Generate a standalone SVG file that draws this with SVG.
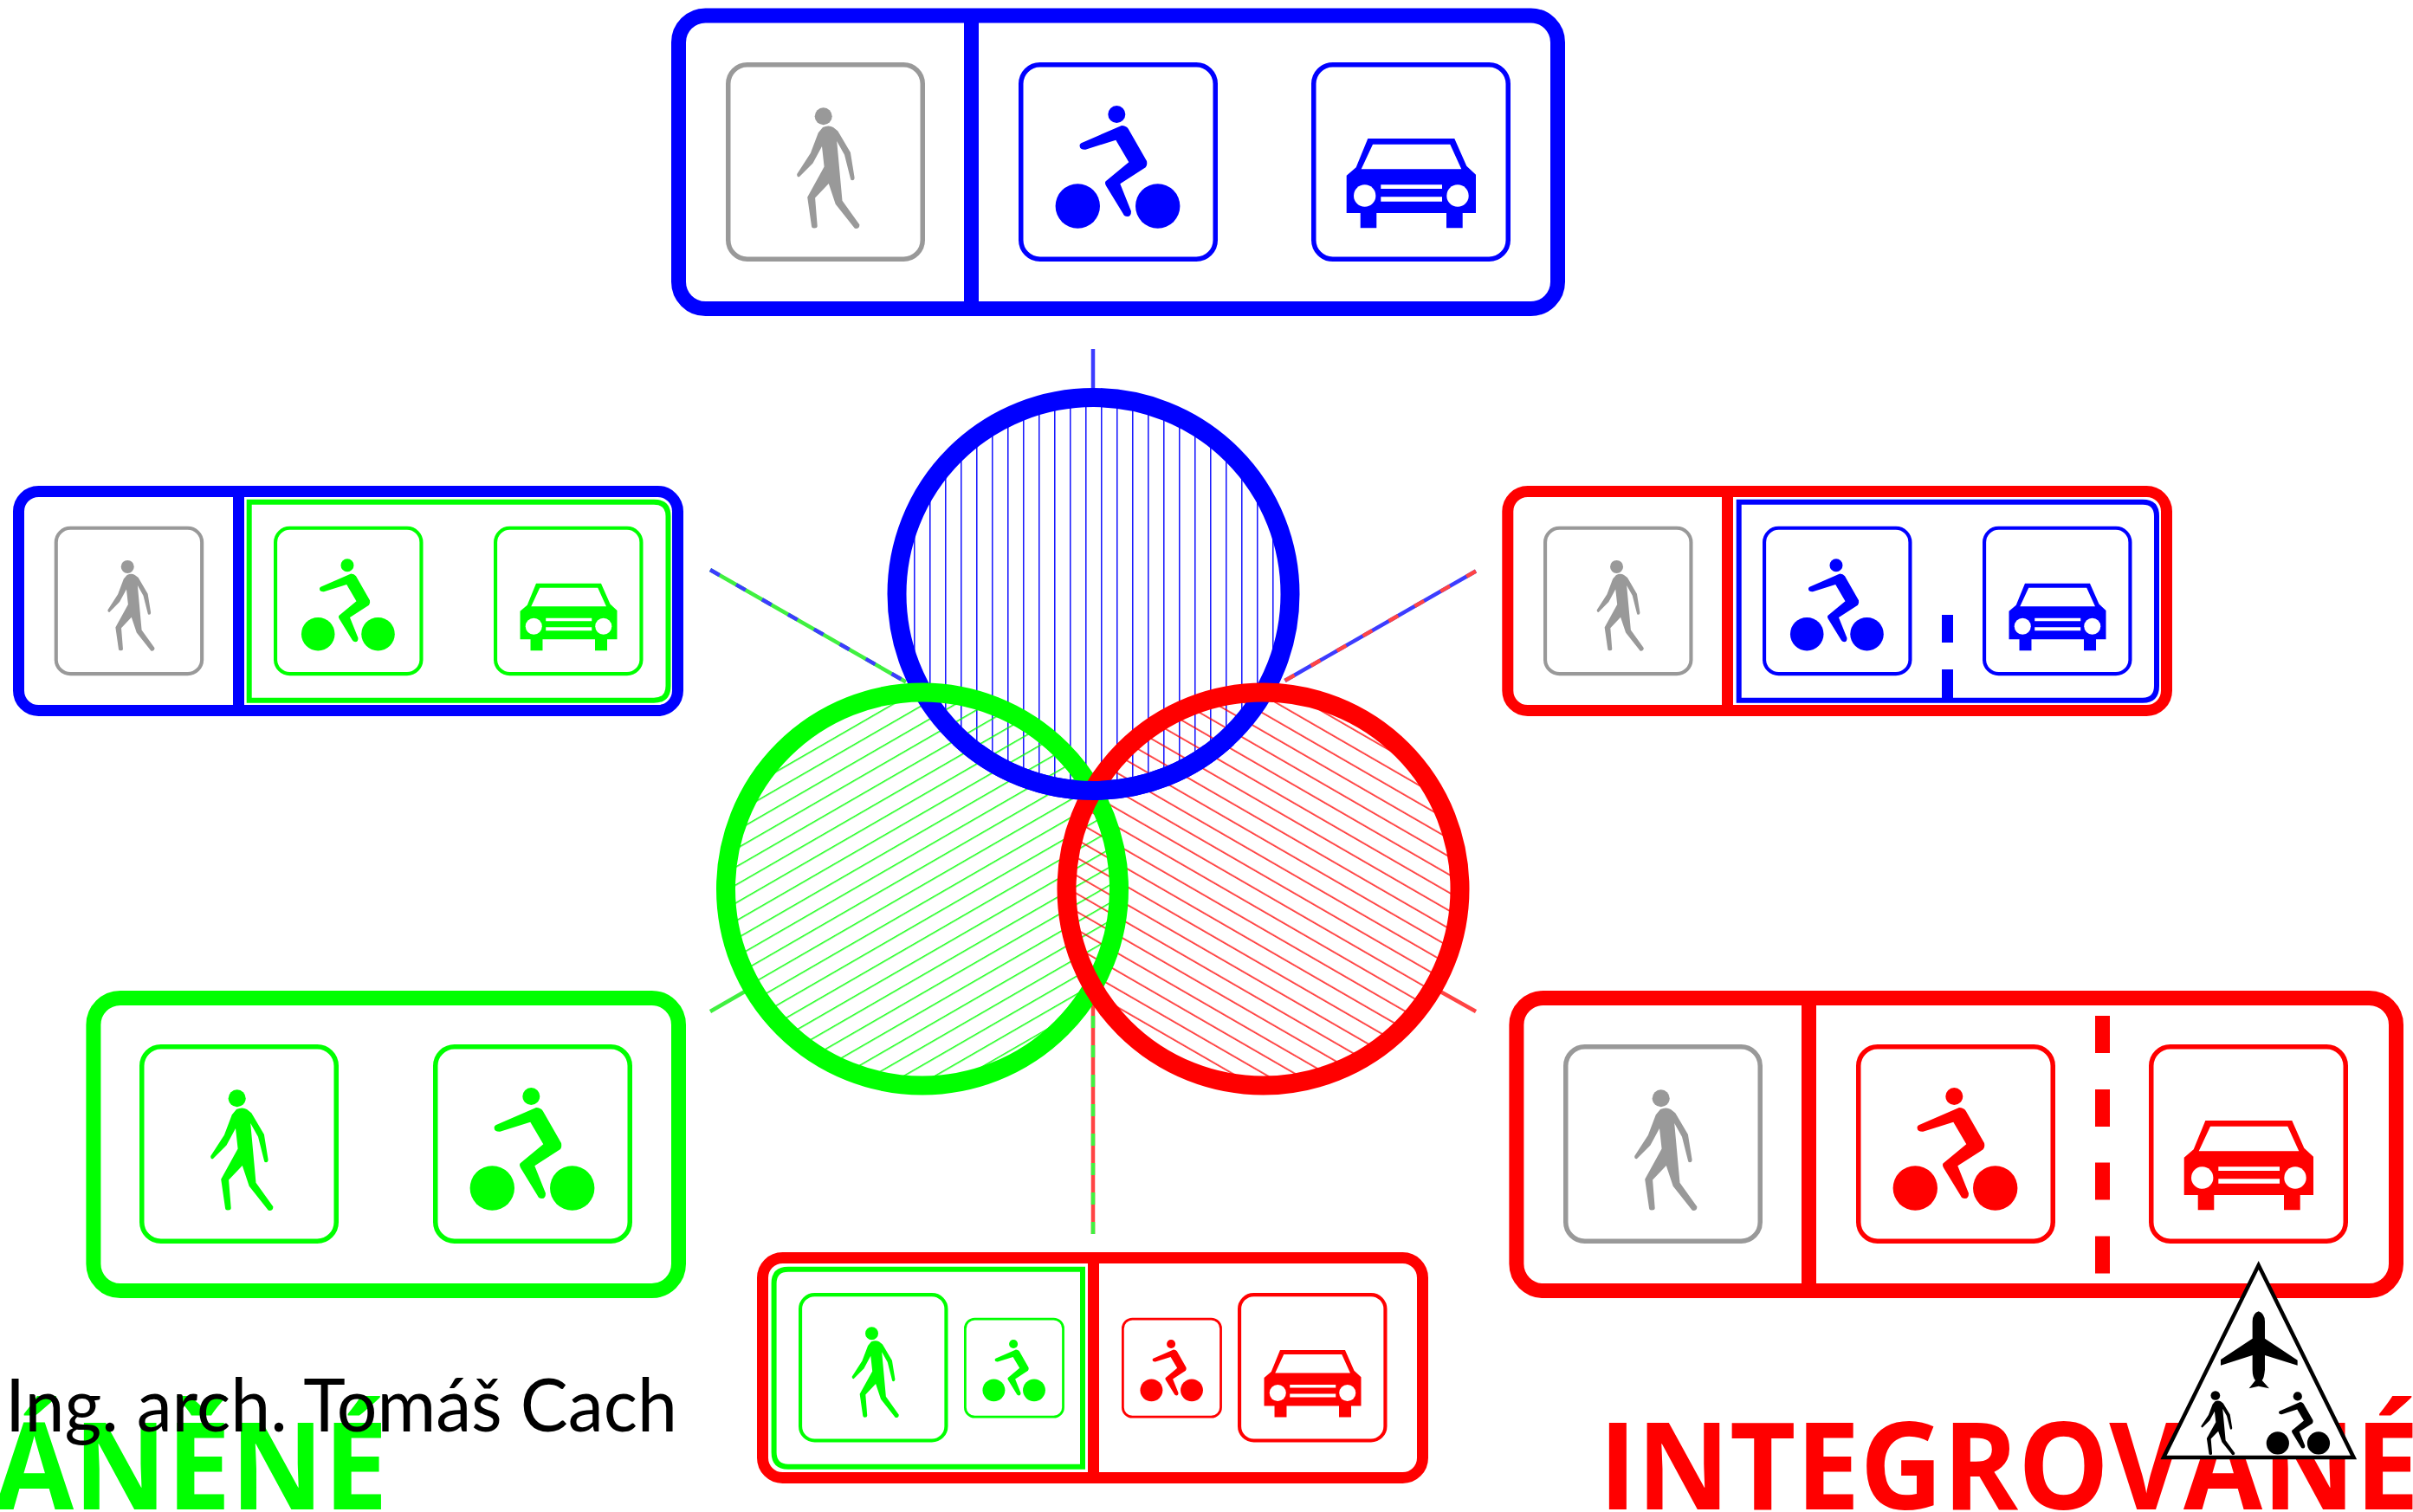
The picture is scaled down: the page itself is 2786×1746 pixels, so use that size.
<svg xmlns="http://www.w3.org/2000/svg" width="2786" height="1746" viewBox="0 0 2786 1746">
<style>
.b{color:#00f}.g{color:#0f0}.r{color:#f00}.k{color:#000}.a{color:#999}
.frame{fill:#fff;stroke:currentColor}
.ln{fill:currentColor}
.inner{fill:none;stroke:currentColor;stroke-width:6}
.spoke{fill:none;stroke-width:4.5}
.ring{fill:none;stroke-width:22}
.title{font-family:"Open Sans","Noto Sans",sans-serif;font-weight:700;font-size:140px}
</style>
<defs>
<g id="box"><rect x="2.75" y="2.75" width="224.5" height="224.5" rx="22" fill="none" stroke="currentColor" stroke-width="5.5"/></g>
<g id="fped" fill="currentColor"><circle cx="112.7" cy="62.3" r="10"/><path d="M112,75Q118.8,72 124,75L129.3,79.2L143.9,104L148.6,133Q148.6,136.2 146,136.2Q144,136.2 143.9,134L137,106.7L128.2,91L134.5,159.8L154.4,187.5Q154.4,192 150,192Q148.6,192 147.5,190L126.7,163.7L118.8,140L103.1,156.6L105.7,189Q105.7,191.5 102,191.5Q99.2,191.5 99,189L94.2,155.8L113.6,120.5L111,96.9L100.5,116.5L84.8,132.3Q82,132.5 82.2,129L97.9,104.7L106.8,81.2Z"/></g>
<g id="fbike" fill="currentColor"><circle cx="113.3" cy="60" r="10"/><circle cx="68.3" cy="166" r="25.7"/><circle cx="160.7" cy="166" r="25.7"/><path d="M72.3,93.3L119,73Q124,73 126.7,76.7L148,114Q149,119 146.7,121.3L117.3,140.3L130,172Q130,178 125.7,178Q122,178 120.7,174.7L101.3,143Q99,139 100.7,137.3L127.3,115.3L112.3,89.7L77.3,100.7Q71,101 70.7,97Q70,95 72.3,93.3Z"/></g>
<g id="fcar"><path fill="currentColor" fill-rule="evenodd" d="M65.3,88H165.3L179.3,119.7L190,129.7V174H174.7V191.3H156V174H75.3V191.3H56.7V174H40.7V130.7L51.7,121.3ZM71,94.7L57.7,123.3H173.3L160.3,94.7ZM80.3,141.3V146H151V141.3ZM80.3,155.3V160.7H151V155.3Z"/><circle cx="61.7" cy="154" r="12.7" fill="#fff"/><circle cx="169" cy="154" r="12.7" fill="#fff"/></g>
<g id="sped"><use href="#box"/><use href="#fped"/></g>
<g id="sbike"><use href="#box"/><use href="#fbike"/></g>
<g id="scar"><use href="#box"/><use href="#fcar"/></g>
<pattern id="hb" patternUnits="userSpaceOnUse" width="18" height="18"><rect x="11.1" y="0" width="1.4" height="18" fill="#00f"/></pattern>
<pattern id="hg" patternUnits="userSpaceOnUse" width="18" height="18" patternTransform="rotate(-30)"><rect x="0" y="13.1" width="18" height="1.4" fill="#0f0"/></pattern>
<pattern id="hr" patternUnits="userSpaceOnUse" width="18" height="18" patternTransform="rotate(30)"><rect x="0" y="1.4" width="18" height="1.4" fill="#f00"/></pattern>
<clipPath id="low"><rect x="1000" y="860" width="520" height="80"/></clipPath>
</defs>
<rect width="2786" height="1746" fill="#fff"/>

<g id="connectors">
<path class="spoke" stroke="#3c3cff" d="M1262,403V449"/>
<path class="spoke" stroke="#40f040" d="M820,658L1046,787.5"/>
<path class="spoke" stroke="#3c3cff" stroke-dasharray="12.5 22" d="M820,658L1046,787.5"/>
<path class="spoke" stroke="#3c3cff" d="M1704,659.5L1483.5,786"/>
<path class="spoke" stroke="#f44" stroke-dasharray="12.5 22" d="M1704,659.5L1483.5,786"/>
<path class="spoke" stroke="#40f040" d="M820,1168L860,1145"/>
<path class="spoke" stroke="#f44" d="M1704,1168L1663,1145"/>
<path class="spoke" stroke="#f44" d="M1262,1425V1160"/>
<path class="spoke" stroke="#40f040" stroke-dasharray="14 20" d="M1262,1425V1160"/>
</g>

<g id="venn">
<g id="hatches">
<circle cx="1262.5" cy="686" r="227" fill="url(#hb)"/>
<circle cx="1065" cy="1026.5" r="227" fill="url(#hg)"/>
<circle cx="1458.5" cy="1026.5" r="227" fill="url(#hr)"/>
</g>
<circle id="circle-blue" class="ring" cx="1262.5" cy="686" r="227" stroke="#00f"/>
<circle id="circle-green" class="ring" cx="1065" cy="1026.5" r="227" stroke="#0f0"/>
<circle id="circle-red" class="ring" cx="1458.5" cy="1026.5" r="227" stroke="#f00"/>
<circle id="circle-blue-over" class="ring" cx="1262.5" cy="686" r="227" stroke="#00f" clip-path="url(#low)"/>
</g>

<g id="panel-top" class="b">
<rect class="frame" x="783.5" y="18" width="1015" height="338.5" rx="31" stroke-width="17"/>
<rect class="ln" x="1113" y="18" width="17" height="338"/>
<use href="#sped" class="a" transform="translate(838,72)"/>
<use href="#sbike" transform="translate(1176,72)"/>
<use href="#scar" transform="translate(1514,72)"/>
</g>

<g id="panel-left" class="b">
<rect class="frame" x="21.5" y="567.5" width="761" height="253" rx="23" stroke-width="13"/>
<rect class="ln" x="269" y="567" width="13" height="254"/>
<path class="inner g" d="M287.7,579.7H755Q771.5,579.7 771.5,596V792Q771.5,808.7 755,808.7H287.7Z"/>
<use href="#sped" class="a" transform="translate(62.7,607.7) scale(.75)"/>
<use href="#sbike" class="g" transform="translate(316,607.7) scale(.75)"/>
<use href="#scar" class="g" transform="translate(570,607.7) scale(.75)"/>
</g>

<g id="panel-right" class="r">
<rect class="frame" x="1740.8" y="567.5" width="760.7" height="253" rx="23" stroke-width="13"/>
<rect class="ln" x="1988" y="567" width="13" height="254"/>
<path class="inner b" d="M2007.7,579.7H2474Q2490,579.7 2490,596V792Q2490,808.7 2474,808.7H2007.7Z"/>
<use href="#sped" class="a" transform="translate(1782,607.7) scale(.75)"/>
<use href="#sbike" class="b" transform="translate(2035,607.7) scale(.75)"/>
<use href="#scar" class="b" transform="translate(2289,607.7) scale(.75)"/>
<rect class="ln b" x="2242" y="710" width="13" height="32"/>
<rect class="ln b" x="2242" y="773" width="13" height="33"/>
</g>

<g id="panel-green" class="g">
<rect class="frame" x="107.9" y="1152.5" width="675.6" height="338" rx="31" stroke-width="17"/>
<use href="#sped" transform="translate(161,1206)"/>
<use href="#sbike" transform="translate(500,1206)"/>
</g>

<g id="panel-red" class="r">
<rect class="frame" x="1750.9" y="1152.5" width="1015.6" height="338" rx="31" stroke-width="17"/>
<rect class="ln" x="2080" y="1152" width="17" height="338"/>
<use href="#sped" class="a" transform="translate(1805,1206)"/>
<use href="#sbike" transform="translate(2143,1206)"/>
<use href="#scar" transform="translate(2481,1206)"/>
<rect class="ln" x="2419" y="1173" width="17" height="43"/>
<rect class="ln" x="2419" y="1258" width="17" height="43"/>
<rect class="ln" x="2419" y="1342.5" width="17" height="43"/>
<rect class="ln" x="2419" y="1427.5" width="17" height="43"/>
</g>

<g id="panel-bottom" class="r">
<rect class="frame" x="880.5" y="1452.5" width="762" height="254" rx="23" stroke-width="13"/>
<rect class="ln" x="1256" y="1452" width="13" height="255"/>
<path class="inner g" d="M1250,1465.7H910Q893.6,1465.7 893.6,1482V1677Q893.6,1693.7 910,1693.7H1250Z"/>
<use href="#sped" class="g" transform="translate(922,1493) scale(.75)"/>
<use href="#sbike" class="g" transform="translate(1113,1521.7) scale(.504)"/>
<use href="#sbike" transform="translate(1295,1521.7) scale(.504)"/>
<use href="#scar" transform="translate(1429,1493) scale(.75)"/>
</g>

<g id="labels">
<text transform="translate(-6,1743) scale(.943,1)" class="title" fill="#0f0">ÁNĚNÉ</text>
<text x="6" y="1652.6" font-family="Lato,'Liberation Sans',sans-serif" font-weight="400" font-size="85" fill="#000" textLength="776" lengthAdjust="spacingAndGlyphs">Ing. arch. Tomáš Cach</text>
<text transform="translate(1846,1743) scale(.943,1)" class="title" fill="#f00">INTEGROVANÉ</text>
</g>

<g id="sign-triangle" class="k">
<polygon points="2607.7,1461 2498,1683 2717.5,1683" fill="#fff" stroke="#000" stroke-width="4.5"/>
<path fill="#000" transform="translate(2480,1450) scale(.3333)" d="M383,193Q405,200 405,230L405,287L518,362L518,380L405,345L405,395Q402,425 395,432L420,460L383,452L350,460L372,432Q362,420 362,395L362,345L252,380L252,360L362,287L362,230Q362,200 383,193Z"/>
<use href="#fped" transform="translate(2497,1578.5) scale(.54,.53)"/>
<use href="#fbike" transform="translate(2595,1581.8) scale(.51)"/>
</g>
</svg>
